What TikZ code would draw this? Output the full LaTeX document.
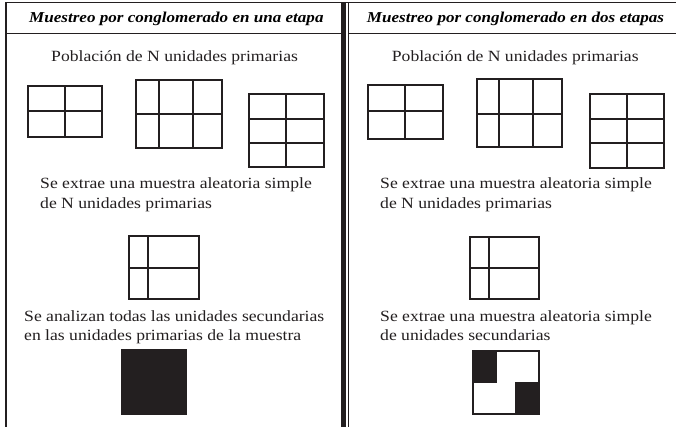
\documentclass[tikz,border=0pt]{standalone}
\usepackage{fontspec}
\setmainfont[FakeStretch=1.13]{Liberation Serif}
\definecolor{ink}{HTML}{231F20}
\tikzset{
 rule/.style={draw=ink,line width=1.2pt},
 grid/.style={draw=ink,line width=1.9pt},
 body/.style={anchor=base west,inner sep=0pt,text=ink,font=\fontsize{15.6}{18}\selectfont},
 title/.style={anchor=base west,inner sep=0pt,text=black,font=\fontsize{15.1}{18}\selectfont\bfseries\itshape},
 solid/.style={fill=ink,draw=none}
}
\newcommand{\gridbox}[6]{%
 \draw[grid] (#1,#3) rectangle (#2,#4);
 \foreach \vx in {#5} {\draw[grid] (\vx,#3) -- (\vx,#4);}
 \foreach \hy in {#6} {\draw[grid] (#1,\hy) -- (#2,\hy);}
}
\begin{document}
\begin{tikzpicture}[x=1pt,y=-1pt]
\useasboundingbox (0,0) rectangle (676,427);
\fill[white] (0,0) rectangle (676,427);
% frame
\coordinate (tl) at (6,2.5); \coordinate (tr) at (676,2.5);
\coordinate (bl) at (6,427);
\draw[rule] (tl) -- (tr);
\draw[rule] (tl) -- (bl);
\draw[rule] (6,33.5) -- (341,33.5);
\draw[rule] (348,33.5) -- (676,33.5);
\fill[ink] (341,2.5) rectangle (346,427);
\draw[draw=ink,line width=1pt] (348.5,2.5) -- (348.5,427);
% titles
\node[title] (t1) at (29,23) {Muestreo por conglomerado en una etapa};
\node[title] (t2) at (366.7,23) {Muestreo por conglomerado en dos etapas};
% left column text
\node[body] (p1) at (51,61.5) {Población de N unidades primarias};
\node[body] (s1) at (40,188.5) {Se extrae una muestra aleatoria simple};
\node[body] (s1b) at (40,208.5) {de N unidades primarias};
\node[body] (a1) at (24,321.5) {Se analizan todas las unidades secundarias};
\node[body] (a1b) at (24,340.5) {en las unidades primarias de la muestra};
% right column text
\node[body] (p2) at (391.7,61.5) {Población de N unidades primarias};
\node[body] (s2) at (380,188.5) {Se extrae una muestra aleatoria simple};
\node[body] (s2b) at (380,208.5) {de N unidades primarias};
\node[body] (a2) at (380,321.5) {Se extrae una muestra aleatoria simple};
\node[body] (a2b) at (380,340.5) {de unidades secundarias};
% left boxes
\gridbox{28}{102}{86}{137}{65.3}{110.7}
\gridbox{136}{221.7}{80}{148}{158.7,192.7}{114}
\gridbox{249.3}{323.7}{93.7}{167.3}{286.3}{119.3,143.3}
\gridbox{129}{198.7}{236.3}{299}{148}{267.7}
\fill[solid] (121,349) rectangle (187,415);
% right boxes
\gridbox{368.3}{442.7}{84.7}{138.7}{405.3}{111}
\gridbox{476.7}{562.3}{79}{146.7}{499.3,533.3}{114.3}
\gridbox{589.7}{664}{94}{167.7}{626.7}{118.7,142.7}
\gridbox{470}{539}{237}{299.3}{489}{267.7}
\fill[solid] (472.7,350.7) rectangle (497,382.7);
\fill[solid] (515,382.3) rectangle (539,414);
\draw[grid] (472.7,350.7) rectangle (539,414);
\end{tikzpicture}
\end{document}
